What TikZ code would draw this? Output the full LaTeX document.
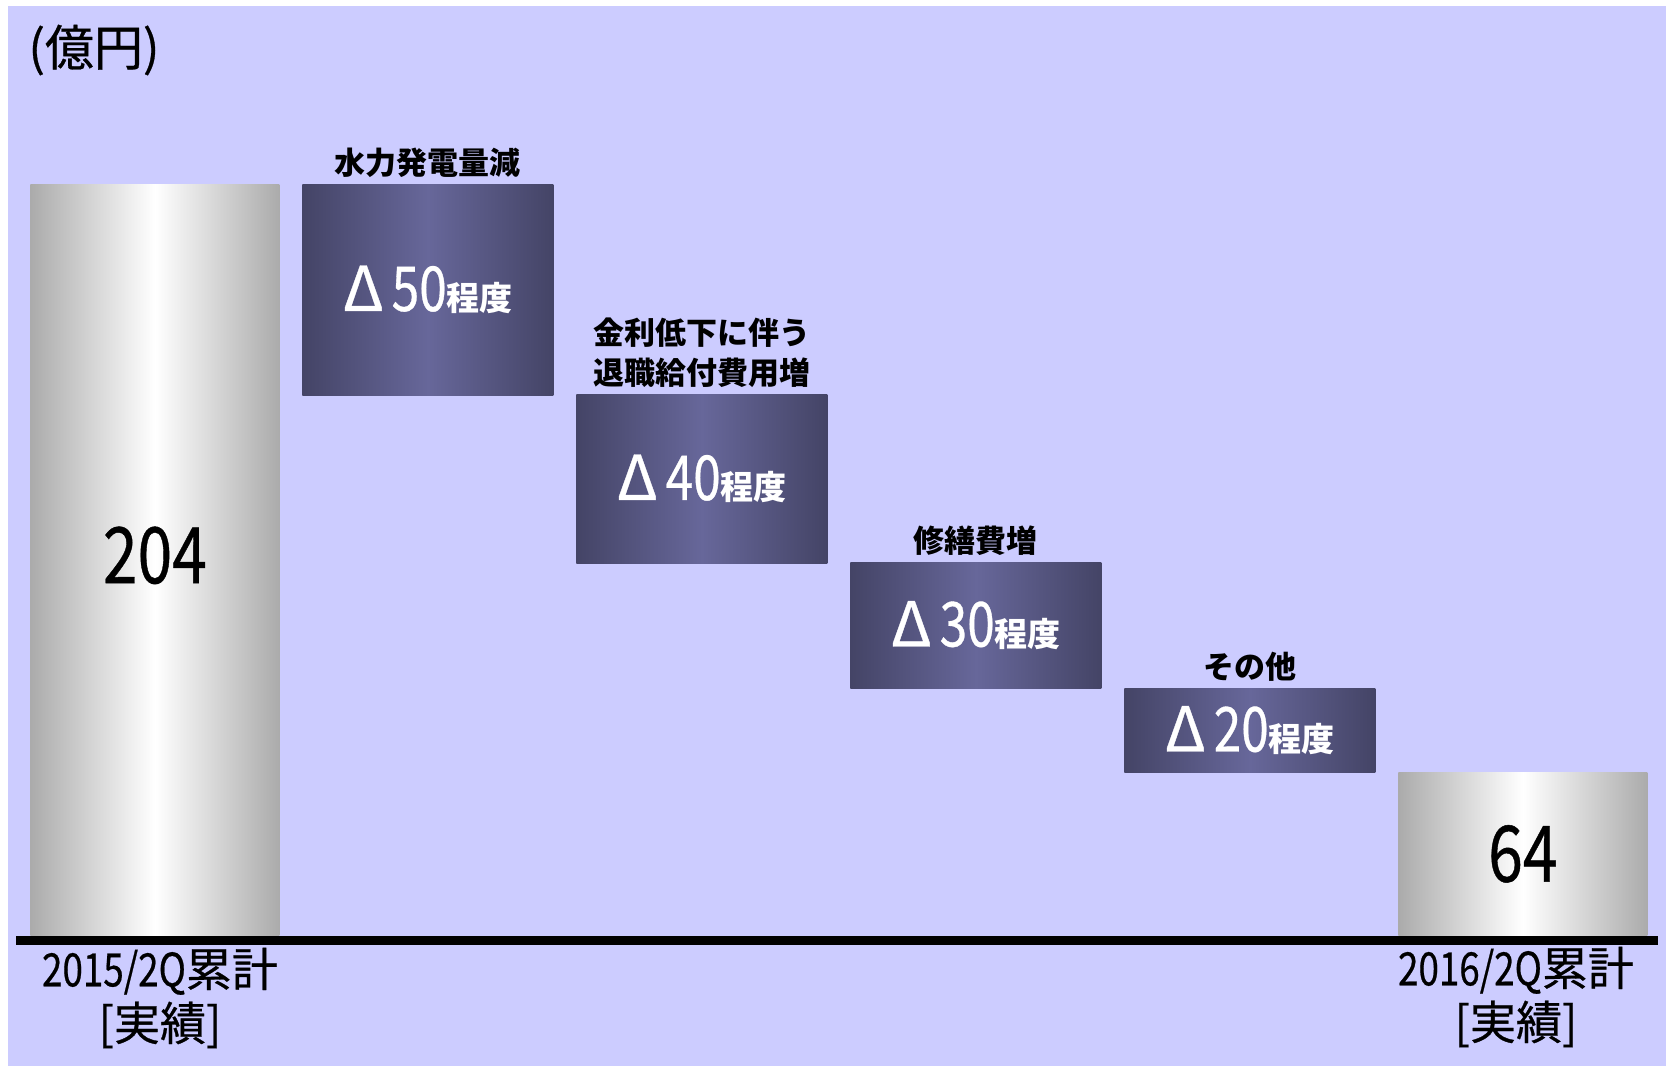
\documentclass[tikz,border=0pt]{standalone}
\usepackage{fontspec}
\setmainfont{Noto Sans CJK JP}[UprightFeatures={FakeBold=0.6}]
\usetikzlibrary{positioning}

\definecolor{bgblue}{HTML}{CCCCFF}
\definecolor{silveredge}{HTML}{ABABAB}
\definecolor{boxedge}{HTML}{444466}
\definecolor{boxmid}{HTML}{67679A}
\newcommand{\nd}[1]{\scalebox{0.8}[1]{#1}}
\newcommand{\teido}{{\bfseries\fontsize{16.5}{16.5}\selectfont 程度}}
\newcommand{\dlt}{{\addfontfeature{FakeBold=1.5}Δ}\hspace{4pt}}

\tikzset{
  total/.style={anchor=north west, inner sep=0pt, minimum width=124.5pt,
    left color=silveredge, right color=silveredge, middle color=white,
    font=\fontsize{39}{39}\selectfont},
  drop/.style={anchor=north west, inner sep=0pt, minimum width=125.5pt,
    left color=boxedge, right color=boxedge, middle color=boxmid,
    text=white, font=\fontsize{31}{31}\selectfont},
  cause/.style={above=3pt of #1, inner sep=0pt, align=center,
    font=\bfseries\fontsize{15.5}{20}\selectfont},
  period/.style={inner sep=0pt, align=center, font=\fontsize{23}{27}\selectfont}
}

\begin{document}
\begin{tikzpicture}[x=0.5pt, y=-0.5pt]
\useasboundingbox (0,0) rectangle (1666,1066);
\fill[bgblue] (8,6) rectangle (1666,1066);

\node[anchor=west, inner sep=0pt, font=\fontsize{24.5}{24.5}\selectfont] (unit) at (28,50) {(億円)};

\node[total, minimum height=375.5pt] (start) at (30,184) {\raisebox{5pt}{\nd{204}}};
\node[drop, minimum height=105.5pt] (hydro) at (302,184) {\dlt\nd{50}\teido};
\node[drop, minimum height=84.5pt] (pension) at (576,394) {\dlt\nd{40}\teido};
\node[drop, minimum height=63pt] (repair) at (850,562) {\dlt\nd{30}\teido};
\node[drop, minimum height=42pt] (other) at (1124,688) {\dlt\nd{20}\teido};
\node[total, minimum height=81.5pt] (finish) at (1398,772) {\nd{64}};

\node[cause=hydro] (hydrolbl) {水力発電量減};
\node[cause=pension] (pensionlbl) {金利低下に伴う\\退職給付費用増};
\node[cause=repair] (repairlbl) {修繕費増};
\node[cause=other] (otherlbl) {その他};

% base line
\coordinate (axl) at (16,940.5);
\coordinate (axr) at (1658,940.5);
\draw[line width=4.5pt] (axl) -- (axr);

\node[period] (startlbl) at (160,998) {\nd{2015/2Q}累計\\{[実績]}};
\node[period] (finishlbl) at (1516,997) {\nd{2016/2Q}累計\\{[実績]}};
\end{tikzpicture}
\end{document}
